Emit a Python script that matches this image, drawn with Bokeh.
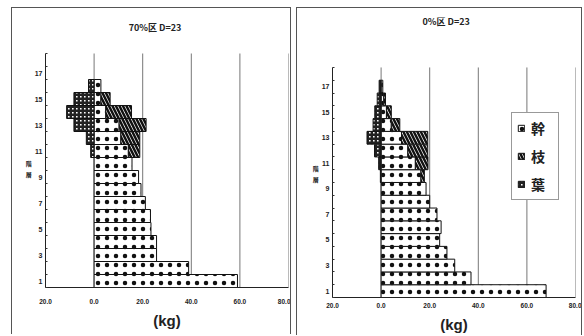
from bokeh.plotting import figure
from bokeh.models import Range1d, FixedTicker, Legend, LegendItem, Label
from bokeh.embed import file_html
from bokeh.resources import INLINE

# ---- data ----
levels_70 = list(range(1, 17))
stem_70 = [59.0, 38.9, 25.7, 25.7, 23.4, 23.2, 21.1, 19.3, 18.3, 15.6, 14.1, 11.0, 10.3, 4.8, 2.8, 2.8]
branch_70 = [0, 0, 0, 0, 0, 0, 0, 0, 0, 0, 4.7, 7.8, 11.1, 10.6, 3.8, 0]
leaf_70 = [0, 0, 0, 0, 0, 0, 0, 0, 0, 0, 1.4, 3.2, 8.3, 11.3, 8.3, 2.3]

levels_0 = list(range(1, 18))
stem_0 = [67.9, 37.0, 30.3, 27.1, 24.1, 24.7, 23.0, 20.0, 18.5, 16.4, 14.1, 11.0, 8.4, 4.2, 2.2, 1.1, 0.7]
branch_0 = [0, 0, 0, 0, 0, 0, 0, 0, 0, 1.4, 5.2, 8.2, 10.8, 3.5, 2.0, 0.7, 0]
leaf_0 = [0, 0, 0, 0, 0, 0, 0, 0, 0, 0.3, 1.0, 2.7, 5.8, 3.3, 2.6, 1.6, 0.8]

x_ticks = [-20, 0, 20, 40, 60, 80]
x_tick_labels = ["20.0", "0.0", "20.0", "40.0", "60.0", "80.0"]
grid_ticks = [0, 20, 40, 60, 80]
y_ticks = [1, 3, 5, 7, 9, 11, 13, 15, 17]
y_bounds = [i + 0.5 for i in range(0, 19)]
legend_labels = ["幹", "枝", "葉"]
titles = ["70%区  D=23", "0%区  D=23"]
x_label = "(kg)"
y_label = "階\n層"

CJK = "Noto Sans CJK JP"
LAT = "Liberation Sans"
INK = "#222222"


def make_panel(title, title_xy, levels, stem, branch, leaf, fw, fh, y_top, mb,
               tick_standoff, label_standoff, pos, ylabel_pad, with_legend=False):
    p = figure(frame_width=fw, frame_height=fh, output_backend="svg", toolbar_location=None,
               x_range=Range1d(-20, 80), y_range=Range1d(0.5, y_top),
               min_border_left=mb[0], min_border_right=mb[1],
               min_border_top=mb[2], min_border_bottom=mb[3])
    p.outline_line_color = None
    p.background_fill_color = "white"
    p.border_fill_color = "white"

    # vertical grid lines limited to the level range
    n = len(grid_ticks)
    p.segment(x0=grid_ticks, y0=[0.5] * n, x1=grid_ticks, y1=[18.5] * n,
              line_color="#777777", line_width=1)

    # bars
    b_levels = [l for l, b in zip(levels, branch) if b > 0]
    b_left = [s for s, b in zip(stem, branch) if b > 0]
    b_right = [s + b for s, b in zip(stem, branch) if b > 0]
    f_levels = [l for l, f in zip(levels, leaf) if f > 0]
    f_left = [-f for f in leaf if f > 0]

    r_stem = p.hbar(y=levels, left=0, right=stem, height=1.0, fill_color="white",
                    line_color="#111111", line_width=1,
                    hatch_pattern="dot", hatch_color="#111111", hatch_scale=9, hatch_weight=0.5)
    r_branch = p.hbar(y=b_levels, left=b_left, right=b_right, height=1.0, fill_color="white",
                      line_color="#111111", line_width=1,
                      hatch_pattern="left_diagonal_line", hatch_color="#111111",
                      hatch_scale=7, hatch_weight=2.5)
    r_leaf = p.hbar(y=f_levels, left=f_left, right=0, height=1.0, fill_color="white",
                    line_color="#111111", line_width=1,
                    hatch_pattern="cross", hatch_color="#222222", hatch_scale=4, hatch_weight=2.8)

    # title
    p.add_layout(Label(x=title_xy[0], y=title_xy[1], text=title, text_align="center",
                       text_baseline="middle", text_font=CJK, text_font_size="9px",
                       text_font_style="bold", text_color=INK))

    # x axis
    xa = p.xaxis[0]
    xa.ticker = FixedTicker(ticks=x_ticks)
    xa.major_label_overrides = {t: l for t, l in zip(x_ticks, x_tick_labels)}
    xa.major_tick_in = 0
    xa.major_tick_out = 0
    xa.minor_tick_in = 0
    xa.minor_tick_out = 0
    xa.major_label_standoff = tick_standoff
    xa.major_label_text_font = LAT
    xa.major_label_text_font_size = "6.5px"
    xa.major_label_text_font_style = "bold"
    xa.major_label_text_color = INK
    xa.axis_line_color = "#222222"
    xa.axis_label = x_label
    xa.axis_label_text_font = LAT
    xa.axis_label_text_font_size = "15px"
    xa.axis_label_text_font_style = "bold"
    xa.axis_label_text_color = INK
    xa.axis_label_standoff = label_standoff

    # y axis
    ya = p.yaxis[0]
    ya.bounds = (0.5, 18.5)
    ya.ticker = FixedTicker(ticks=y_ticks, minor_ticks=y_bounds)
    ya.major_tick_in = 0
    ya.major_tick_out = 0
    ya.minor_tick_in = 2
    ya.minor_tick_out = 0
    ya.minor_tick_line_color = "#333333"
    ya.major_label_standoff = 3
    ya.major_label_text_font = LAT
    ya.major_label_text_font_size = "7px"
    ya.major_label_text_font_style = "bold"
    ya.major_label_text_color = INK
    ya.axis_line_color = "#222222"
    # leading blank lines push the stacked label down to the middle of the levels
    ya.axis_label = "\n" * ylabel_pad + y_label
    ya.axis_label_orientation = "horizontal"
    ya.axis_label_text_font = CJK
    ya.axis_label_text_font_size = "6px"
    ya.axis_label_text_font_style = "bold"
    ya.axis_label_text_color = INK
    ya.axis_label_standoff = 0

    p.xgrid.grid_line_color = None
    p.ygrid.grid_line_color = None

    if with_legend:
        legend = Legend(items=[LegendItem(label=legend_labels[0], renderers=[r_stem]),
                               LegendItem(label=legend_labels[1], renderers=[r_branch]),
                               LegendItem(label=legend_labels[2], renderers=[r_leaf])],
                        location=(179, 97))
        legend.border_line_color = "#333333"
        legend.border_line_width = 1
        legend.background_fill_color = "white"
        legend.background_fill_alpha = 1
        legend.label_text_font = CJK
        legend.label_text_font_size = "14px"
        legend.label_text_font_style = "bold"
        legend.label_text_color = INK
        legend.label_height = 14
        legend.label_width = 22
        legend.glyph_width = 8
        legend.glyph_height = 8
        legend.label_standoff = 6
        legend.spacing = 8
        legend.padding = 5
        legend.margin = 0
        p.add_layout(legend, "center")

    p.styles = {"position": "absolute", "left": f"{pos[0]}px", "top": f"{pos[1]}px",
                "border": "1px solid #555555", "border-bottom": "none"}
    return p


p1 = make_panel(titles[0], (25.5, 20.5), levels_70, stem_70, branch_70, leaf_70,
                fw=243, fh=270, y_top=21.27, mb=(33, 2, 9, 47),
                tick_standoff=11, label_standoff=5, pos=(11, 7), ylabel_pad=3)
p2 = make_panel(titles[1], (27.2, 22.1), levels_0, stem_0, branch_0, leaf_0,
                fw=243, fh=280, y_top=22.41, mb=(35, 6, 9, 37),
                tick_standoff=5, label_standoff=5, pos=(296, 7), ylabel_pad=3,
                with_legend=True)

open("out.html", "w").write(file_html([p1, p2], INLINE))
